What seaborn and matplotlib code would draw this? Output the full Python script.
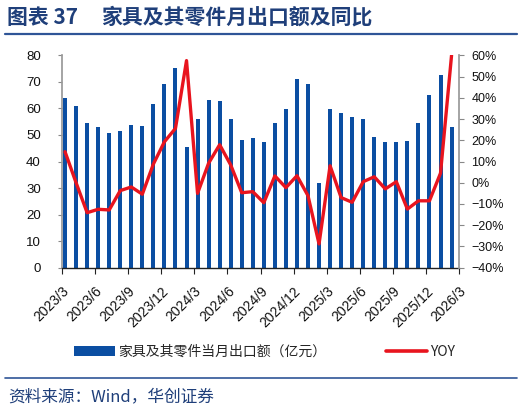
import numpy as np
import pandas as pd
import matplotlib
matplotlib.use("Agg")
import matplotlib.pyplot as plt
from matplotlib.lines import Line2D
from matplotlib.patches import Patch
import seaborn as sns

# ---- data ----
months = [f"{y}/{m}" for y, m in
          [(2023, m) for m in range(3, 13)] + [(2024, m) for m in range(1, 13)] +
          [(2025, m) for m in range(1, 13)] + [(2026, m) for m in range(1, 3)]]
export_value = [63.8, 61.0, 54.4, 52.9, 50.7, 51.4, 53.7, 53.2, 61.5, 69.1, 75.1, 45.3,
                56.1, 63.2, 62.9, 55.9, 48.1, 49.0, 47.2, 54.4, 59.8, 71.1, 69.1, 32.0,
                59.9, 58.4, 56.9, 56.1, 49.3, 47.5, 47.3, 47.6, 54.6, 65.0, 72.6, 53.1]
yoy = [14.6, 0.0, -14.1, -12.5, -12.8, -3.7, -2.0, -5.4, 8.8, 19.3, 25.6, 57.5,
       -5.0, 9.2, 17.9, 8.4, -4.7, -4.2, -9.4, 3.2, -2.3, 3.3, -6.1, -28.8,
       8.0, -7.0, -9.2, 0.5, 2.8, -2.9, 0.5, -12.4, -8.5, -8.5, 4.5, 60.0]
tick_labels = ["2023/3", "2023/6", "2023/9", "2023/12", "2024/3", "2024/6", "2024/9",
               "2024/12", "2025/3", "2025/6", "2025/9", "2025/12", "2026/3"]
left_ticks = [0, 10, 20, 30, 40, 50, 60, 70, 80]
right_ticks = [-40, -30, -20, -10, 0, 10, 20, 30, 40, 50, 60]

bar_label = "家具及其零件当月出口额（亿元）"
line_label = "YOY"
title_a = "图表 37"
title_b = "家具及其零件月出口额及同比"
source = "资料来源：Wind，华创证券"

df = pd.DataFrame({"month": months, "value": export_value, "yoy": yoy})
df["idx"] = np.arange(len(df))

sns.set_theme(style="white")
plt.rcParams["font.family"] = ["Noto Sans CJK SC", "DejaVu Sans"]
NUM_FONT = ["Liberation Sans", "DejaVu Sans"]

BLUE = "#0B4EA2"
RED = "#E8141E"
NAVY = "#1F3F7A"
LINE_NAVY = "#2F5597"

fig = plt.figure(figsize=(5.24, 4.13), dpi=100)
ax = fig.add_axes([0.1178, 0.3518, 0.7587, 0.5143])

sns.barplot(data=df, x="idx", y="value", ax=ax, color=BLUE, width=0.36,
            native_scale=True, saturation=1, edgecolor="none")
off = 0.3
for p in ax.patches:
    p.set_x(p.get_x() + off)

ax.set_xlim(0, 36)
ax.set_ylim(0, 80)
ax.set_yticks(left_ticks)
ax.set_yticklabels([str(t) for t in left_ticks], family=NUM_FONT, fontsize=9.5)
ax.set_xticks(np.arange(0, 37, 3))
ax.set_xticklabels(tick_labels, rotation=45, ha="right", va="top",
                   rotation_mode="anchor", family=NUM_FONT, fontsize=10)
ax.set_xlabel("")
ax.set_ylabel("")
ax.tick_params(axis="x", length=4, width=0.8, color="#222222", pad=8,
               direction="out", bottom=True)
ax.tick_params(axis="y", length=3, width=0.8, color="#888888", pad=12,
               direction="out", left=True)
for lbl in ax.get_xticklabels() + ax.get_yticklabels():
    lbl.set_color("#111111")
ax.spines["top"].set_visible(False)
ax.spines["right"].set_visible(False)
ax.spines["left"].set_color("#999999")
ax.spines["bottom"].set_color("#222222")
ax.spines["bottom"].set_linewidth(1.0)

ax2 = ax.twinx()
sns.lineplot(x=df["idx"] + off, y=df["yoy"], ax=ax2, color=RED, linewidth=2.4,
             legend=False)
ax2.set_ylim(-40, 60)
ax2.set_yticks(right_ticks)
ax2.set_yticklabels([f"{t}%".replace("-", "\u2212") for t in right_ticks],
                    family=NUM_FONT, fontsize=9)
ax2.set_ylabel("")
ax2.set_xlim(0, 36)
ax2.tick_params(axis="y", length=3.6, width=0.8, color="#888888", pad=5,
                direction="out", right=True)
for lbl in ax2.get_yticklabels():
    lbl.set_color("#111111")
for s in ["top", "left", "bottom"]:
    ax2.spines[s].set_visible(False)
ax2.spines["right"].set_color("#999999")

# legend
handles = [Patch(facecolor=BLUE, edgecolor="none"),
           Line2D([0], [0], color=RED, linewidth=2.6)]
fig.legend(handles, [bar_label, line_label], loc="center",
           bbox_to_anchor=(0.505, 1 - 352 / 413), ncol=2, frameon=False,
           fontsize=10, handlelength=2.95, handleheight=0.75, handletextpad=0.25,
           columnspacing=4.3)

# title and rules
fig.text(7 / 524, 1 - 17 / 413, title_a, fontsize=15, fontweight="bold",
         color=NAVY, ha="left", va="center")
fig.text(101 / 524, 1 - 17 / 413, title_b, fontsize=15, fontweight="bold",
         color=NAVY, ha="left", va="center")
fig.add_artist(Line2D([5 / 524, 517 / 524], [1 - 33.5 / 413, 1 - 33.5 / 413],
                      color=LINE_NAVY, linewidth=1.6))
fig.add_artist(Line2D([5 / 524, 517 / 524], [1 - 378 / 413, 1 - 378 / 413],
                      color=LINE_NAVY, linewidth=1.2))
fig.text(8 / 524, 1 - 397 / 413, source, fontsize=12, style="italic",
         color=NAVY, ha="left", va="center")

fig.savefig("out.png", dpi=100)
